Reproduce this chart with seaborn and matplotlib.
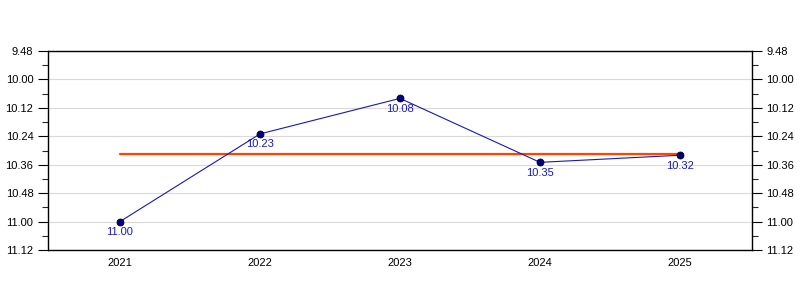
import matplotlib
matplotlib.use("Agg")
import matplotlib.pyplot as plt
import seaborn as sns
import pandas as pd
from matplotlib.ticker import FuncFormatter, MultipleLocator

years = ["2021", "2022", "2023", "2024", "2025"]
times = ["11.00", "10.23", "10.08", "10.35", "10.32"]

def to_sec(s):
    m, sec = s.split(".")
    return int(m) * 60 + int(sec)

def fmt(v, pos=None):
    v = int(round(v))
    return f"{v // 60}.{v % 60:02d}"

secs = [to_sec(t) for t in times]
df = pd.DataFrame({"year": years, "sec": secs})
avg = sum(secs) / len(secs)

sns.set_style("white")
plt.rcParams["font.family"] = ["Liberation Sans", "DejaVu Sans"]

fig = plt.figure(figsize=(8, 3), dpi=100)
ax = fig.add_axes([0.06, 1 - 250 / 300, 0.88, 199 / 300])

ax.set_ylim(672, 588)
ax.set_xlim(-0.514, 4.514)
ax.yaxis.set_major_locator(MultipleLocator(12))
ax.yaxis.set_minor_locator(MultipleLocator(6))
ax.yaxis.set_major_formatter(FuncFormatter(fmt))
ax.grid(axis="y", which="major", color="#d9d9d9", linewidth=0.8)
ax.set_axisbelow(True)

ax.plot([0, 4], [avg, avg], color="#ff4500", linewidth=1.6, zorder=2)

sns.lineplot(data=df, x="year", y="sec", ax=ax, color="#1a1aaa", linewidth=0.8,
             marker="o", markersize=5, markerfacecolor="#000080",
             markeredgecolor="#000000", markeredgewidth=0.6, zorder=3)

for i, (t, s) in enumerate(zip(times, secs)):
    ax.annotate(t, (i, s), xytext=(0, -4), textcoords="offset points",
                ha="center", va="top", fontsize=8, color="#1a1aaa")

ax.set_xlabel("")
ax.set_ylabel("")
for sp in ax.spines.values():
    sp.set_visible(True)
    sp.set_color("black")
    sp.set_linewidth(1)

ax.tick_params(axis="y", which="major", direction="out", length=7, width=0.8,
               left=True, right=True, labelleft=True, labelright=True,
               labelsize=8, colors="black")
ax.tick_params(axis="y", which="minor", direction="out", length=4, width=0.8,
               left=True, right=True)
ax.tick_params(axis="x", which="major", direction="out", length=0, labelsize=8,
               pad=6, colors="black")

fig.savefig("out.png", dpi=100)
